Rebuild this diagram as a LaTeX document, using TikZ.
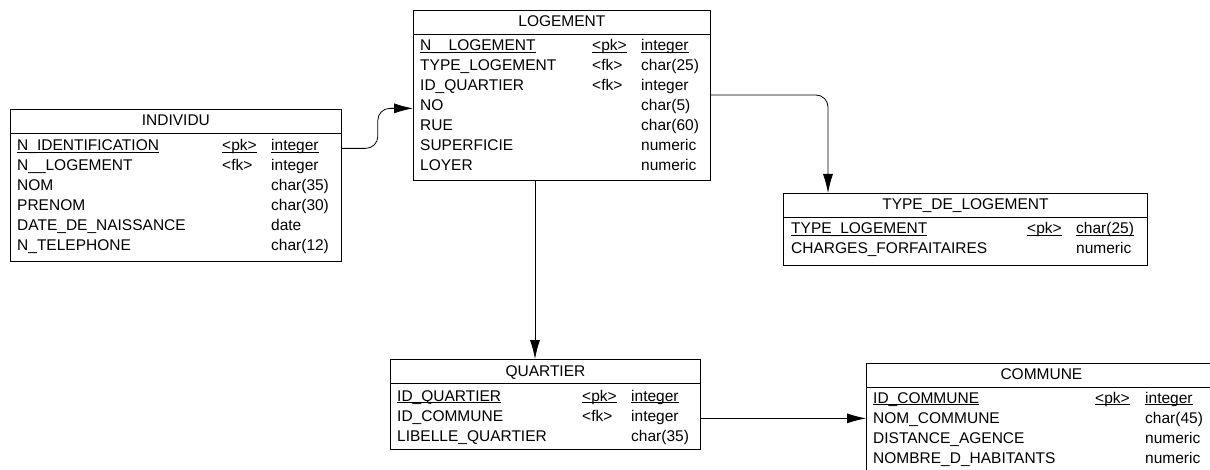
\documentclass[tikz,border=0pt]{standalone}
\usepackage{fontspec}
\setmainfont{Liberation Sans}
\usepackage{tikz}
\usetikzlibrary{arrows.meta,positioning}
\tikzstyle{entity} = [draw, line width=0.8pt, anchor=north west, inner sep=0pt]
\tikzstyle{etitle} = [anchor=base, inner sep=0pt, font=\fontsize{15.5}{18}\selectfont]
\tikzstyle{attr}   = [anchor=base west, inner sep=0pt, font=\fontsize{15.5}{18}\selectfont]
\tikzstyle{hline}  = [draw, line width=0.8pt]
\tikzstyle{tedge}  = [draw, line width=0.8pt, -{Latex[length=19pt,width=10pt]}]
\newcommand{\pkey}[1]{\underline{\smash{#1}}}

\begin{document}
\begin{tikzpicture}[x=1pt, y=-1pt]
\useasboundingbox (0,0) rectangle (1210,470);

% LOGEMENT =============================
\node[entity, minimum width=297pt, minimum height=170pt] (logement) at (413,10) {};
\node[etitle] (logement-t) at ([yshift=-17pt]logement.north) {LOGEMENT};
\path[hline] ([yshift=-24pt]logement.north west) -- ([yshift=-24pt]logement.north east);
\node[attr] (log1) at (420,51) {\pkey{N\_\_LOGEMENT}};
\node[attr] (log1k) at (592,51) {\pkey{<pk>}};
\node[attr] (log1t) at (641,51) {\pkey{integer}};
\node[attr] (log2) at (420,71) {TYPE\_LOGEMENT};
\node[attr] (log2k) at (592,71) {<fk>};
\node[attr] (log2t) at (641,71) {char(25)};
\node[attr] (log3) at (420,91) {ID\_QUARTIER};
\node[attr] (log3k) at (592,91) {<fk>};
\node[attr] (log3t) at (641,91) {integer};
\node[attr] (log4) at (420,111) {NO};
\node[attr] (log4t) at (641,111) {char(5)};
\node[attr] (log5) at (420,131) {RUE};
\node[attr] (log5t) at (641,131) {char(60)};
\node[attr] (log6) at (420,151) {SUPERFICIE};
\node[attr] (log6t) at (641,151) {numeric};
\node[attr] (log7) at (420,171) {LOYER};
\node[attr] (log7t) at (641,171) {numeric};

% INDIVIDU =============================
\node[entity, minimum width=331pt, minimum height=152pt] (individu) at (10,109) {};
\node[etitle] (individu-t) at ([yshift=-17pt]individu.north) {INDIVIDU};
\path[hline] ([yshift=-24pt]individu.north west) -- ([yshift=-24pt]individu.north east);
\node[attr] (ind1) at (17,151) {\pkey{N\_IDENTIFICATION}};
\node[attr] (ind1k) at (222,151) {\pkey{<pk>}};
\node[attr] (ind1t) at (271,151) {\pkey{integer}};
\node[attr] (ind2) at (17,171) {N\_\_LOGEMENT};
\node[attr] (ind2k) at (222,171) {<fk>};
\node[attr] (ind2t) at (271,171) {integer};
\node[attr] (ind3) at (17,191) {NOM};
\node[attr] (ind3t) at (271,191) {char(35)};
\node[attr] (ind4) at (17,211) {PRENOM};
\node[attr] (ind4t) at (271,211) {char(30)};
\node[attr] (ind5) at (17,231) {DATE\_DE\_NAISSANCE};
\node[attr] (ind5t) at (271,231) {date};
\node[attr] (ind6) at (17,251) {N\_TELEPHONE};
\node[attr] (ind6t) at (271,251) {char(12)};

% TYPE_DE_LOGEMENT =====================
\node[entity, minimum width=364pt, minimum height=72pt] (typelog) at (783,193) {};
\node[etitle] (typelog-t) at ([yshift=-17pt]typelog.north) {TYPE\_DE\_LOGEMENT};
\path[hline] ([yshift=-24pt]typelog.north west) -- ([yshift=-24pt]typelog.north east);
\node[attr] (tdl1) at (791,234) {\pkey{TYPE\_LOGEMENT}};
\node[attr] (tdl1k) at (1027,234) {\pkey{<pk>}};
\node[attr] (tdl1t) at (1076,234) {\pkey{char(25)}};
\node[attr] (tdl2) at (791,254) {CHARGES\_FORFAITAIRES};
\node[attr] (tdl2t) at (1076,254) {numeric};

% QUARTIER =============================
\node[entity, minimum width=310pt, minimum height=90pt] (quartier) at (390,359) {};
\node[etitle] (quartier-t) at ([yshift=-17pt]quartier.north) {QUARTIER};
\path[hline] ([yshift=-24pt]quartier.north west) -- ([yshift=-24pt]quartier.north east);
\node[attr] (qua1) at (397,401) {\pkey{ID\_QUARTIER}};
\node[attr] (qua1k) at (582,401) {\pkey{<pk>}};
\node[attr] (qua1t) at (631,401) {\pkey{integer}};
\node[attr] (qua2) at (397,421) {ID\_COMMUNE};
\node[attr] (qua2k) at (582,421) {<fk>};
\node[attr] (qua2t) at (631,421) {integer};
\node[attr] (qua3) at (397,441) {LIBELLE\_QUARTIER};
\node[attr] (qua3t) at (631,441) {char(35)};

% COMMUNE ==============================
\node[entity, minimum width=350pt, minimum height=110pt] (commune) at (866,363) {};
\node[etitle] (commune-t) at ([yshift=-16pt]commune.north) {COMMUNE};
\path[hline] ([yshift=-24pt]commune.north west) -- ([yshift=-24pt]commune.north east);
\node[attr] (com1) at (873,403) {\pkey{ID\_COMMUNE}};
\node[attr] (com1k) at (1095,403) {\pkey{<pk>}};
\node[attr] (com1t) at (1145,403) {\pkey{integer}};
\node[attr] (com2) at (873,423) {NOM\_COMMUNE};
\node[attr] (com2t) at (1145,423) {char(45)};
\node[attr] (com3) at (873,443) {DISTANCE\_AGENCE};
\node[attr] (com3t) at (1145,443) {numeric};
\node[attr] (com4) at (873,463) {NOMBRE\_D\_HABITANTS};
\node[attr] (com4t) at (1145,463) {numeric};

% references
\coordinate (tdl-in) at ([xshift=45pt]typelog.north west);
\coordinate (qua-in) at ([xshift=145pt]quartier.north west);
\path[tedge, rounded corners=12pt] (individu.east |- ind1.mid) -- ++(36,0) |- (logement.west |- log4.mid);
\path[tedge, rounded corners=12pt] ([yshift=-4pt]logement.east |- log3.base) -| (tdl-in);
\path[tedge] (logement.south -| qua-in) -- (qua-in);
\path[tedge] (quartier.east |- qua2.mid) -- (commune.west |- qua2.mid);

\end{tikzpicture}
\end{document}
